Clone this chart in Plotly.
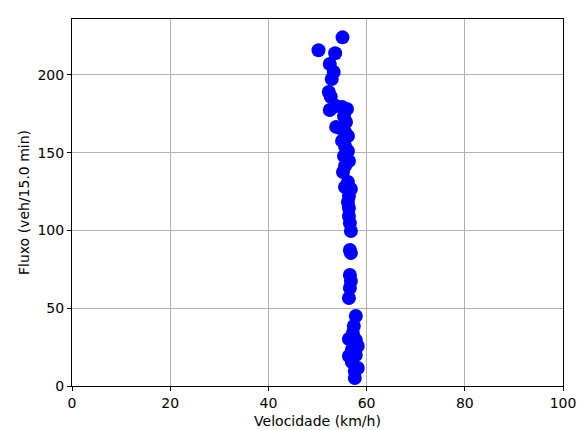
import plotly.graph_objects as go

# Speed (km/h) and flow (veh per 15 min) observations
velocidade = [55.1, 50.2, 53.6, 52.5, 53.3, 52.9, 52.3, 52.7, 52.5, 53.8,
              55.0, 56.0, 55.4, 55.8, 53.8, 54.6, 55.6, 56.2, 55.0, 55.6,
              56.2, 55.4, 56.4, 55.6, 55.2, 56.2, 55.6, 56.8, 56.4, 56.2,
              56.4, 56.4, 56.6, 56.8, 56.6, 56.8, 56.6, 56.8, 56.6, 56.4,
              57.8, 57.4, 57.2, 56.4, 57.8, 58.2, 57.0, 56.4, 57.8, 57.0,
              58.2, 57.6, 57.6]
fluxo = [224.2, 215.9, 214.0, 207.1, 201.9, 197.4, 189.1, 186.0, 177.5, 180.1,
         179.4, 178.1, 173.6, 169.8, 166.6, 165.9, 163.3, 160.8, 157.6, 154.3,
         151.1, 147.9, 144.7, 141.5, 137.6, 131.2, 128.0, 126.7, 122.2, 118.3,
         114.5, 109.3, 104.8, 99.7, 87.5, 85.5, 71.4, 67.5, 63.0, 56.6,
         45.0, 38.6, 34.1, 30.2, 29.6, 25.7, 23.2, 19.3, 19.9, 15.4,
         11.6, 9.6, 5.1]

fig = go.Figure(go.Scatter(
    x=velocidade, y=fluxo, mode="markers",
    marker=dict(color="#0000ff", size=14, line=dict(width=0)),
))

axis_common = dict(
    showgrid=True, gridcolor="#b0b0b0", gridwidth=1,
    showline=True, linecolor="#000000", linewidth=1, mirror=True,
    ticks="outside", ticklen=4, tickcolor="#000000",
    zeroline=False, automargin=False,
    tickfont=dict(family="DejaVu Sans", size=14, color="#000000"),
    title_font=dict(family="DejaVu Sans", size=14, color="#000000"),
)

fig.update_xaxes(range=[0, 100], dtick=20, title_text="Velocidade (km/h)",
                 title_standoff=6, **axis_common)
fig.update_yaxes(range=[0, 236], dtick=50, title_text="Fluxo (veh/15.0 min)",
                 title_standoff=4, **axis_common)

fig.update_layout(
    width=586, height=430,
    margin=dict(l=72, r=23, t=19, b=44),
    paper_bgcolor="white", plot_bgcolor="white",
    showlegend=False,
)

fig.write_html("out.html")
